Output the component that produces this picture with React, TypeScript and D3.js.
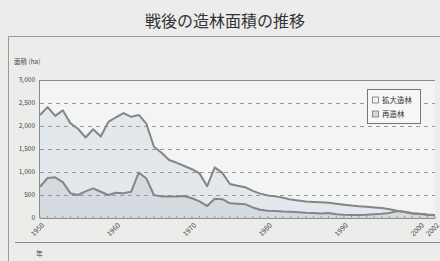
import { useRef, useEffect } from 'react';
import * as d3 from 'd3';

const years = d3.range(1950, 2003);

// 再造林 (bottom layer)
const saizorin = [
  680, 870, 885, 780, 540, 500, 580, 645, 570, 500,
  550, 540, 570, 990, 860, 500, 470, 465, 465, 480,
  430, 360, 260, 420, 410, 320, 310, 300, 230, 180,
  160, 150, 140, 135, 125, 115, 110, 100, 110, 80,
  70, 65, 65, 70, 80, 90, 110, 150, 130, 100,
  85, 70, 60,
];

// 拡大造林 (stacked on top)
const kakudai = [
  1560, 1540, 1335, 1560, 1520, 1440, 1170, 1285, 1200, 1590,
  1640, 1740, 1630, 1250, 1190, 1050, 950, 795, 735, 650,
  630, 610, 430, 680, 570, 420, 390, 370, 360, 350,
  330, 320, 300, 265, 255, 245, 240, 240, 220, 230,
  220, 205, 190, 175, 150, 125, 80, 10, 5, 5,
  5, 5, 5,
];

const yTicks = [0, 500, 1000, 1500, 2000, 2500, 3000];
const xLabels = [1950, 1960, 1970, 1980, 1990, 2000, 2002];
const legendItems = ['拡大造林', '再造林'];

const FONT = '"Noto Sans CJK JP", "Noto Sans", sans-serif';

export default function App() {
  const svgRef = useRef<SVGSVGElement>(null);

  useEffect(() => {
    if (!svgRef.current) return;
    const svg = d3.select(svgRef.current);
    svg.selectAll('*').remove();

    const W = 440;
    const H = 261;
    const margin = { top: 80, right: 5, bottom: 43, left: 40 };

    svg.attr('width', W).attr('height', H);

    svg.append('rect').attr('width', W).attr('height', H).attr('fill', '#ececeb');

    // outer frame
    svg.append('path')
      .attr('d', `M${W},36.5 H8.5 V${H}`)
      .attr('fill', 'none')
      .attr('stroke', '#9a9a9a')
      .attr('stroke-width', 1);
    svg.append('line')
      .attr('x1', 15).attr('x2', W)
      .attr('y1', 242.5).attr('y2', 242.5)
      .attr('stroke', '#8a8a8a');

    svg.append('text')
      .attr('x', 225).attr('y', 27)
      .attr('text-anchor', 'middle')
      .attr('font-family', FONT)
      .attr('font-size', 16)
      .attr('fill', '#333')
      .text('戦後の造林面積の推移');

    svg.append('text')
      .attr('x', 14).attr('y', 64)
      .attr('font-family', FONT)
      .attr('font-size', 6.5)
      .attr('fill', '#444')
      .text('面積 (ha)');

    svg.append('text')
      .attr('x', 36).attr('y', 256)
      .attr('font-family', FONT)
      .attr('font-size', 7)
      .attr('fill', '#444')
      .text('年');

    const x = d3.scaleLinear().domain([1950, 2002]).range([margin.left, W - margin.right]);
    const y = d3.scaleLinear().domain([0, 3000]).range([H - margin.bottom, margin.top]);

    const g = svg.append('g');

    g.append('rect')
      .attr('x', x(1950)).attr('y', y(3000))
      .attr('width', x(2002) - x(1950)).attr('height', y(0) - y(3000))
      .attr('fill', '#f3f4f4');

    const rows = years.map((yr, i) => ({ year: yr, saizorin: saizorin[i], kakudai: kakudai[i] }));
    const stack = d3.stack<any>().keys(['saizorin', 'kakudai'])(rows);
    const fills = ['#d4dae0', '#e3e8ed'];

    const area = d3.area<any>()
      .x((d) => x(d.data.year))
      .y0((d) => y(d[0]))
      .y1((d) => y(d[1]));
    const line = d3.line<any>()
      .x((d) => x(d.data.year))
      .y((d) => y(d[1]));

    // draw top layer first so bottom stays visible
    [1, 0].forEach((k) => {
      g.append('path').attr('d', area(stack[k]) ?? '').attr('fill', fills[k]);
    });

    // grid lines
    g.append('g')
      .selectAll('line')
      .data(yTicks.filter((t) => t > 0 && t < 3000))
      .join('line')
      .attr('x1', x(1950)).attr('x2', x(2002))
      .attr('y1', (d) => y(d) + 0.5).attr('y2', (d) => y(d) + 0.5)
      .attr('stroke', '#9a9a9a')
      .attr('stroke-dasharray', '4,4');

    [1, 0].forEach((k) => {
      g.append('path')
        .attr('d', line(stack[k]) ?? '')
        .attr('fill', 'none')
        .attr('stroke', '#858585')
        .attr('stroke-width', 2)
        .attr('stroke-linejoin', 'round');
    });

    // top frame + left axis
    g.append('line')
      .attr('x1', x(1950)).attr('x2', x(2002))
      .attr('y1', y(3000) + 0.5).attr('y2', y(3000) + 0.5)
      .attr('stroke', '#8a8a8a');
    g.append('line')
      .attr('x1', x(1950) - 0.5).attr('x2', x(1950) - 0.5)
      .attr('y1', y(3000)).attr('y2', y(0))
      .attr('stroke', '#8a8a8a');

    // x axis
    g.append('line')
      .attr('x1', x(1950)).attr('x2', x(2002))
      .attr('y1', y(0) + 0.5).attr('y2', y(0) + 0.5)
      .attr('stroke', '#8a8a8a');
    g.append('g')
      .selectAll('line')
      .data(years)
      .join('line')
      .attr('x1', (d) => x(d)).attr('x2', (d) => x(d))
      .attr('y1', y(0) - 2).attr('y2', y(0) + 1)
      .attr('stroke', '#9a9a9a');

    // y labels
    g.append('g')
      .selectAll('text')
      .data(yTicks)
      .join('text')
      .attr('x', x(1950) - 5)
      .attr('y', (d) => y(d))
      .attr('dy', '0.35em')
      .attr('text-anchor', 'end')
      .attr('font-family', FONT)
      .attr('font-size', 6.5)
      .attr('fill', '#444')
      .text((d) => d3.format(',')(d));

    // x labels rotated
    g.append('g')
      .selectAll('text')
      .data(xLabels)
      .join('text')
      .attr('transform', (d) => `translate(${x(d) + 3},${y(0) + 6}) rotate(-45)`)
      .attr('text-anchor', 'end')
      .attr('dy', '0.35em')
      .attr('font-family', FONT)
      .attr('font-size', 7)
      .attr('fill', '#444')
      .text((d) => d);

    // legend
    const lg = svg.append('g').attr('transform', 'translate(367,89)');
    lg.append('rect')
      .attr('x', 0.5).attr('y', 0.5)
      .attr('width', 53).attr('height', 34)
      .attr('fill', '#f7f7f7')
      .attr('stroke', '#777');
    legendItems.forEach((name, i) => {
      const ly = 11 + i * 14;
      lg.append('rect')
        .attr('x', 5.5).attr('y', ly - 3)
        .attr('width', 6).attr('height', 6)
        .attr('fill', i === 0 ? '#f2f2f2' : fills[0])
        .attr('stroke', '#666')
        .attr('stroke-width', 0.7);
      lg.append('text')
        .attr('x', 15).attr('y', ly)
        .attr('dy', '0.35em')
        .attr('font-family', FONT)
        .attr('font-size', 7.5)
        .attr('fill', '#333')
        .text(name);
    });
  }, []);

  return (
    <div style={{ position: 'fixed', left: 0, top: 0 }}>
      <svg ref={svgRef} style={{ display: 'block' }} />
    </div>
  );
}
